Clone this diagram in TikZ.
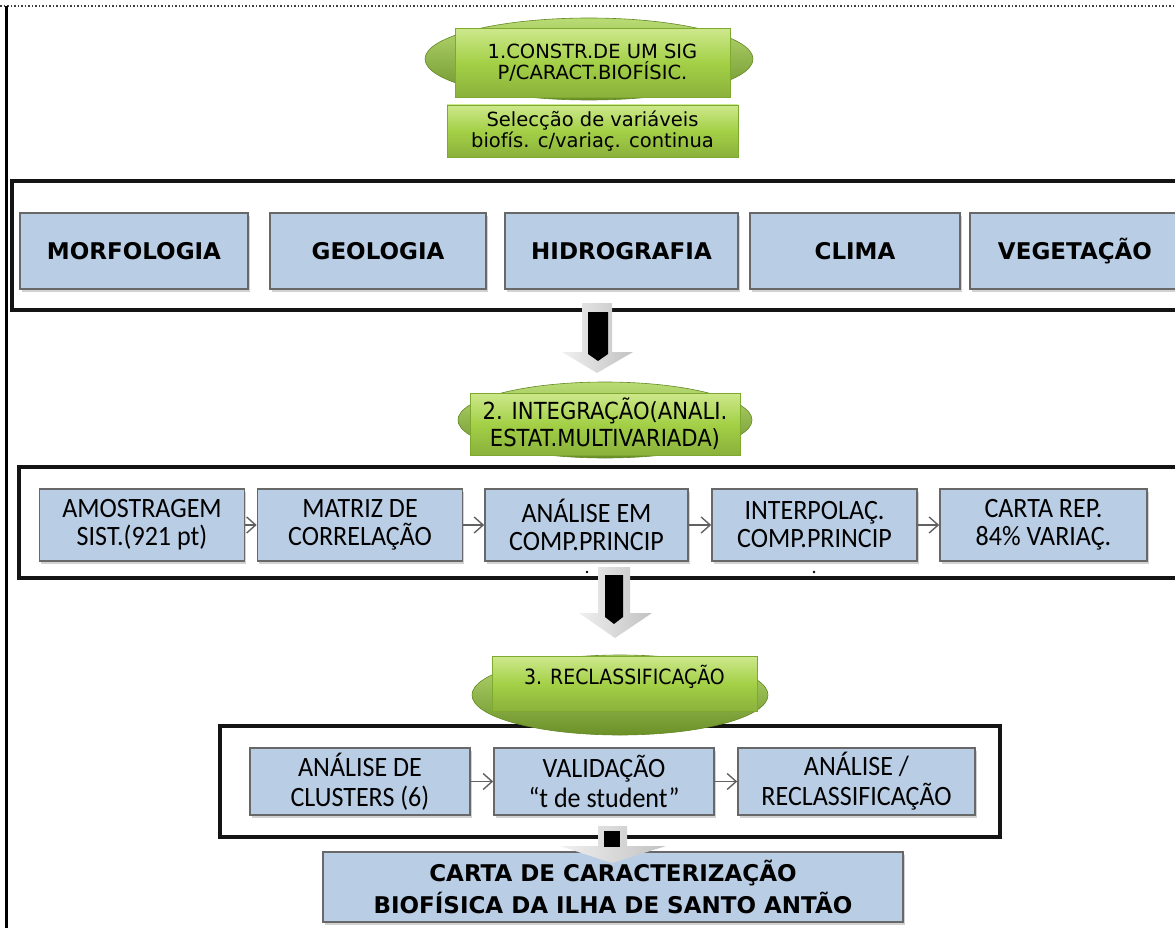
\documentclass[tikz,border=0pt]{standalone}
\usepackage{fontspec}
\newfontfamily\verd{DejaVu Sans}
\newfontfamily\verdcond{DejaVu Sans Condensed}
\newfontfamily\calib{Carlito}[FakeStretch=0.93]
\usetikzlibrary{arrows.meta, shadows}

\definecolor{boxblue}{HTML}{B9CDE5}
\definecolor{boxgray}{HTML}{686868}
\definecolor{grnlight}{HTML}{CDE88C}
\definecolor{grnmid}{HTML}{A3D046}
\definecolor{grndark}{HTML}{7DAA2E}

\tikzset{
	frame/.style={line width=3.2pt, draw=black!92},
	bluebox/.style={draw=boxgray, line width=1.6pt, fill=boxblue, align=center, inner sep=0pt,
		drop shadow={shadow xshift=1.5pt, shadow yshift=-3pt, fill=black!35}},
	bigbold/.style={bluebox, font=\verd\bfseries\fontsize{23}{32}\selectfont},
	plainbox/.style={bluebox, font=\calib\fontsize{28}{28}\selectfont},
	greenbar/.style={draw=grndark, line width=0.8pt, shading=axis, top color=grnlight,
		bottom color=grnmid!85!black, middle color=grnmid, align=center, inner sep=0pt},
	greenell/.style={draw=grndark!80!black, line width=0.6pt, top color=grnmid!75!white, bottom color=grndark!85!black},
	flow/.style={draw=black!62, line width=1.4pt, -{Straight Barb[length=9pt, width=16pt, line width=1.4pt]}},
	bigarr/.style={left color=black!6, right color=black!24}
}

\begin{document}
\begin{tikzpicture}[x=1pt, y=-1pt]
	\useasboundingbox (0,0) rectangle (1175,928);
	\clip (0,0) rectangle (1175,928);
	\draw [dotted, line width=1.5pt, black!75] (0,6) -- (1175,6);
	\draw [line width=3pt] (6,6) -- (6,930);

	% etapa 1
	\shade [greenell] (589,59) ellipse [x radius=164pt, y radius=41pt];
	\node [greenbar, minimum width=275pt, minimum height=69pt, font=\verd\fontsize{19.5}{21}\selectfont] (sig) at (592.5,63) {1.CONSTR.DE UM SIG\\P/CARACT.BIOFÍSIC.};
	\node [greenbar, minimum width=291pt, minimum height=52pt, font=\verd\fontsize{19.5}{21}\selectfont] (selec) at (592.5,131) {Selecção de variáveis\\biofís. c/variaç. continua};
	\draw [frame] (12,181) rectangle (1190,310);
	\node [bigbold, minimum width=228pt, minimum height=76pt] (morf) at (134,251) {MORFOLOGIA};
	\node [bigbold, minimum width=216pt, minimum height=76pt] (geol) at (378,251) {GEOLOGIA};
	\node [bigbold, minimum width=233pt, minimum height=76pt] (hidro) at (621.5,251) {HIDROGRAFIA};
	\node [bigbold, minimum width=210pt, minimum height=76pt] (clima) at (855,251) {CLIMA};
	\node [bigbold, minimum width=210pt, minimum height=76pt] (veget) at (1075,251) {VEGETAÇÃO};
	\shade [bigarr] (582,303) -- (612,303) -- (612,352) -- (633,352) -- (597,373) -- (562,352) -- (582,352) -- cycle;
	\fill (588,312) -- (608,312) -- (608,354) -- (598,361) -- (588,354) -- cycle;

	% etapa 2
	\shade [greenell] (605,420) ellipse [x radius=147pt, y radius=38pt];
	\node [greenbar, minimum width=270pt, minimum height=62pt, font=\verdcond\fontsize{23.5}{27}\selectfont] (integ) at (605,424) {2. INTEGRAÇÃO(ANALI.\\ESTAT.MULTIVARIADA)};
	\draw [frame] (19,467) rectangle (1190,578);
	\node [plainbox, minimum width=205pt, minimum height=72pt] (amost) at (142,525) {AMOSTRAGEM\\SIST.(921 pt)};
	\node [plainbox, minimum width=205pt, minimum height=72pt] (matriz) at (360,525) {MATRIZ DE\\CORRELAÇÃO};
	\node [plainbox, minimum width=203pt, minimum height=72pt] (acp) at (586.5,525) {ANÁLISE EM\\COMP.PRINCIP};
	\node [plainbox, minimum width=205pt, minimum height=72pt] (interp) at (814.5,525) {INTERPOLAÇ.\\COMP.PRINCIP};
	\node [plainbox, minimum width=207pt, minimum height=72pt] (cartarep) at (1043.5,525) {CARTA REP.\\84\% VARIAÇ.};
	\draw [flow] (amost) -- (matriz);
	\draw [flow] (matriz) -- (acp);
	\draw [flow] (acp) -- (interp);
	\draw [flow] (interp) -- (cartarep);
	\fill (587,572) circle (1.3pt);
	\fill (814,572) circle (1.3pt);
	\shade [bigarr] (598,567) -- (630,567) -- (630,613) -- (652,613) -- (615,638) -- (579,613) -- (598,613) -- cycle;
	\fill (605,575) -- (623,575) -- (623,617) -- (614,624) -- (605,617) -- cycle;

	% etapa 3
	\draw [frame] (220,726) rectangle (1000,837);
	\shade [greenell] (620,695) ellipse [x radius=148pt, y radius=40pt];
	\node [greenbar, minimum width=265pt, minimum height=55pt, text height=15pt, text depth=14pt, font=\verdcond\fontsize{21}{24}\selectfont] (reclas) at (624.5,684) {3. RECLASSIFICAÇÃO};
	\node [plainbox, minimum width=220pt, minimum height=67pt, font=\calib\fontsize{28}{30}\selectfont] (clust) at (360,781.5) {ANÁLISE DE\\CLUSTERS (6)};
	\node [plainbox, minimum width=220pt, minimum height=67pt, font=\calib\fontsize{28}{30}\selectfont] (valid) at (604,781.5) {VALIDAÇÃO\\“t de student”};
	\node [plainbox, minimum width=237pt, minimum height=67pt, font=\calib\fontsize{28}{30}\selectfont] (reanal) at (856.5,781.5) {ANÁLISE /\\RECLASSIFICAÇÃO};
	\draw [flow] (clust) -- (valid);
	\draw [flow] (valid) -- (reanal);
	\node [bigbold, minimum width=580pt, minimum height=70pt] (carta) at (613,887) {CARTA DE CARACTERIZAÇÃO\\BIOFÍSICA DA ILHA DE SANTO ANTÃO};
	\shade [bigarr] (598,826) -- (627,826) -- (627,846) -- (666,846) -- (612,863) -- (560,846) -- (598,846) -- cycle;
	\fill (604,831) rectangle (620,847);
\end{tikzpicture}
\end{document}
